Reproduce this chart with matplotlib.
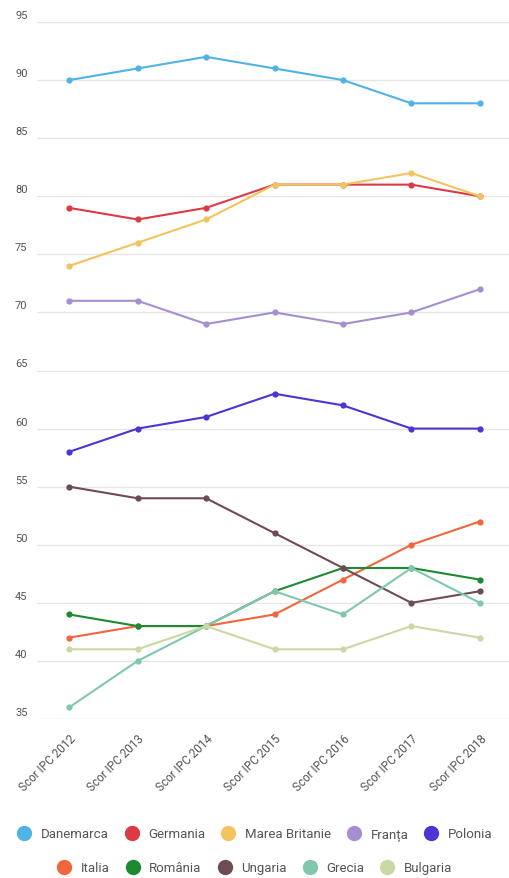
import matplotlib
matplotlib.use("Agg")
import matplotlib.pyplot as plt
from matplotlib.lines import Line2D
from matplotlib.transforms import offset_copy

years = ["Scor IPC 2012", "Scor IPC 2013", "Scor IPC 2014", "Scor IPC 2015",
         "Scor IPC 2016", "Scor IPC 2017", "Scor IPC 2018"]

danemarca = [90, 91, 92, 91, 90, 88, 88]
germania = [79, 78, 79, 81, 81, 81, 80]
marea_britanie = [74, 76, 78, 81, 81, 82, 80]
franta = [71, 71, 69, 70, 69, 70, 72]
polonia = [58, 60, 61, 63, 62, 60, 60]
italia = [42, 43, 43, 44, 47, 50, 52]
romania = [44, 43, 43, 46, 48, 48, 47]
ungaria = [55, 54, 54, 51, 48, 45, 46]
grecia = [36, 40, 43, 46, 44, 48, 45]
bulgaria = [41, 41, 43, 41, 41, 43, 42]

series = [
    ("Danemarca", danemarca, "#4fb3e6"),
    ("Germania", germania, "#dc3a45"),
    ("Marea Britanie", marea_britanie, "#f2c45e"),
    ("Franța", franta, "#a58fd2"),
    ("Polonia", polonia, "#4b36d4"),
    ("Italia", italia, "#f1663c"),
    ("România", romania, "#1d8a33"),
    ("Ungaria", ungaria, "#6e4c52"),
    ("Grecia", grecia, "#80c7ad"),
    ("Bulgaria", bulgaria, "#c9d9a3"),
]

y_ticks = [35, 40, 45, 50, 55, 60, 65, 70, 75, 80, 85, 90, 95]

plt.rcParams["font.family"] = ["Roboto", "DejaVu Sans"]

W, H = 510, 879
fig = plt.figure(figsize=(W / 100, H / 100), dpi=100)
ax = fig.add_axes([37 / W, 1 - 720 / H, 473 / W, (720 - 23) / H])

x = list(range(len(years)))
for name, vals, col in series:
    ax.plot(x, vals, color=col, lw=1.5, marker="o", ms=4.5,
            markeredgewidth=0, label=name, zorder=3)

ax.set_ylim(35, 95)
ax.set_xlim(-0.47, 6.44)
ax.set_yticks(y_ticks)
ax.yaxis.grid(True, color="#e6e6e6", lw=1)
ax.set_axisbelow(True)
ax.tick_params(axis="y", length=0, labelleft=False)
for s in ax.spines.values():
    s.set_visible(False)

# value labels sit just above their gridlines, left-aligned
ytr = offset_copy(ax.get_yaxis_transform(), fig=fig, x=0, y=7, units="dots")
for v in y_ticks:
    ax.text(-22 / 473, v, str(v), transform=ytr, ha="left", va="center",
            fontsize=8, color="#555555")

ax.set_xticks(x)
ax.set_xticklabels(years, rotation=45, ha="right", va="top",
                   rotation_mode="anchor", fontsize=8.5, color="#555555")
ax.tick_params(axis="x", length=0, pad=9)

handles = [Line2D([], [], marker="o", ls="", ms=10, color=c, label=n)
           for n, _, c in series]
kw = dict(frameon=False, ncol=5, fontsize=9.5, handletextpad=0.75,
          columnspacing=1.25, handlelength=1.0, labelcolor="#555555")
fig.legend(handles=handles[:5], loc="center", bbox_to_anchor=(0.5, 1 - 835 / H), **kw)
fig.legend(handles=handles[5:], loc="center", bbox_to_anchor=(0.5, 1 - 869 / H), **kw)

fig.savefig("out.png", dpi=100)
